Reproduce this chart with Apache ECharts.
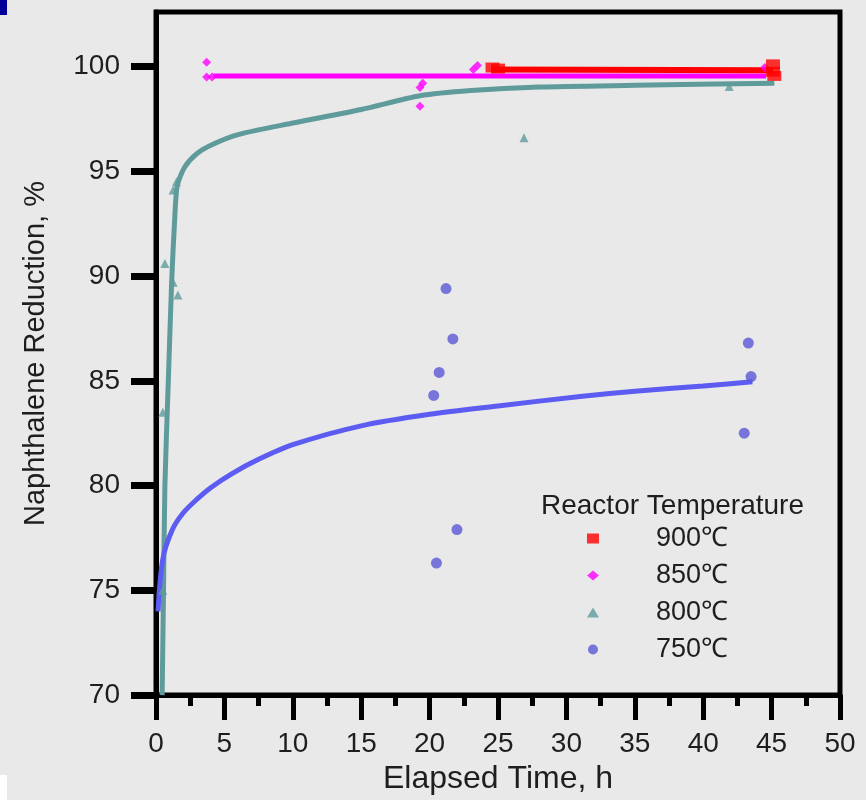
<!DOCTYPE html>
<html>
<head>
<meta charset="utf-8">
<script src="https://cdn.jsdelivr.net/npm/echarts@6/dist/echarts.min.js"></script>
<style>
html,body{margin:0;padding:0;background:#e9e9e9;}
#chart{width:866px;height:800px;}
</style>
</head>
<body>
<div id="chart"></div>
<script>
// ---- data ----
const xTicks = [0, 5, 10, 15, 20, 25, 30, 35, 40, 45, 50];
const yTicks = [70, 75, 80, 85, 90, 95, 100];
const legendNames = ['900℃', '850℃', '800℃', '750℃'];

// measured points
const pts900 = [[24.6, 99.95], [25.0, 99.9], [45.1, 100.1], [45.1, 99.75], [45.2, 99.55]];
const pts850 = [[3.7, 100.2], [3.7, 99.5], [4.1, 99.5], [19.5, 99.2], [19.3, 99.0], [19.3, 98.1], [23.2, 99.85], [23.5, 100.05], [44.5, 99.95]];
const pts800 = [[0.5, 75.0], [0.5, 83.5], [0.65, 90.6], [1.25, 89.7], [1.6, 89.1], [1.25, 94.1], [1.5, 94.5], [26.9, 96.6], [41.9, 99.05]];
const pts750 = [[21.2, 89.4], [21.7, 87.0], [20.7, 85.4], [20.3, 84.3], [22.0, 77.9], [20.5, 76.3], [43.3, 86.8], [43.5, 85.2], [43.0, 82.5]];

// fitted curves
const fit900 = [[24.5, 99.85], [45.1, 99.82]];
const fit850 = [[4.2, 99.55], [44.6, 99.55]];
const fit800 = [[0.45, 70], [0.55, 75], [0.65, 80], [0.9, 85], [1.15, 89.8], [1.35, 92.5], [1.55, 94.3], [2.1, 95.2], [3.0, 95.85], [4.2, 96.3], [6, 96.75], [10, 97.3], [15, 97.95], [19.3, 98.6], [23, 98.85], [28, 99.02], [35, 99.1], [45.2, 99.2]];
const fit750 = [[0.15, 74.0], [0.5, 76.5], [1.2, 77.9], [2, 78.7], [3, 79.35], [4, 79.9], [5.5, 80.55], [7.5, 81.25], [10, 81.95], [15, 82.85], [20, 83.4], [25, 83.8], [31, 84.25], [35, 84.5], [40, 84.75], [43.6, 84.95]];

const cRed = '#ff0000', cMag = '#ff00ff', cTeal = '#5f9b9b', cBlue = '#5c5cf2', cBlueDot = '#5a58d6';

const chart = echarts.init(document.getElementById('chart'));
const font = 'Liberation Sans, Arial, sans-serif';
const txt = '#1e1e1e';

chart.setOption({
  backgroundColor: '#e9e9e9',
  animation: false,
  grid: { left: 156, right: 26, top: 12, bottom: 104, show: true, backgroundColor: '#e9e9e9', borderColor: '#000', borderWidth: 5 },
  title: {
    text: 'Reactor Temperature', left: 536, top: 487,
    textStyle: { fontFamily: font, fontSize: 28, fontWeight: 'normal', color: txt }
  },
  legend: {
    orient: 'vertical', left: 582, top: 520, itemGap: 10, itemWidth: 12, itemHeight: 10,
    data: [
      { name: legendNames[0], icon: 'rect' },
      { name: legendNames[1], icon: 'diamond' },
      { name: legendNames[2], icon: 'triangle' },
      { name: legendNames[3], icon: 'circle' }
    ],
    formatter: n => '{a|' + n + '}',
    textStyle: { fontFamily: font, fontSize: 27, color: txt, rich: { a: { fontFamily: font, fontSize: 27, lineHeight: 27, color: txt, padding: [0, 0, 0, 52] } } },
    selectedMode: false
  },
  xAxis: {
    type: 'value', min: 0, max: 50, interval: 5,
    name: 'Elapsed Time, h', nameLocation: 'middle', nameGap: 66,
    nameTextStyle: { fontFamily: font, fontSize: 32, color: txt },
    axisLine: { show: true, onZero: false, lineStyle: { color: '#000', width: 5 } },
    axisTick: { show: true, length: 25, lineStyle: { color: '#000', width: 5 } },
    minorTick: { show: true, splitNumber: 2, length: 11, lineStyle: { color: '#000', width: 5 } },
    axisLabel: { margin: 35, fontFamily: font, fontSize: 28, color: txt, formatter: v => xTicks.includes(v) ? String(v) : '' },
    splitLine: { show: false }
  },
  yAxis: {
    type: 'value', min: 70, max: 102.6, interval: 5,
    name: 'Naphthalene Reduction, %', nameLocation: 'middle', nameGap: 106,
    nameTextStyle: { fontFamily: font, fontSize: 29, color: txt },
    axisLine: { show: true, onZero: false, lineStyle: { color: '#000', width: 5 } },
    axisTick: { show: true, length: 25, lineStyle: { color: '#000', width: 7 } },
    axisLabel: { margin: 36, fontFamily: font, fontSize: 28, color: txt, showMaxLabel: false, formatter: v => yTicks.includes(v) ? String(v) : '' },
    splitLine: { show: false }
  },
  graphic: [
    { type: 'rect', left: 0, top: 0, shape: { width: 7, height: 15 }, style: { fill: '#000099' } },
    { type: 'rect', left: 0, top: 775, shape: { width: 7, height: 25 }, style: { fill: '#ffffff' } }
  ],
  series: [
    { name: 'fit800', type: 'line', data: fit800, smooth: 0.25, showSymbol: false, lineStyle: { color: cTeal, width: 5 }, z: 2 },
    { name: 'fit750', type: 'line', data: fit750, smooth: 0.3, showSymbol: false, lineStyle: { color: cBlue, width: 5 }, z: 2 },
    { name: 'fit850', type: 'line', data: fit850, showSymbol: false, lineStyle: { color: cMag, width: 5 }, z: 3 },
    { name: 'fit900', type: 'line', data: fit900, showSymbol: false, lineStyle: { color: cRed, width: 6 }, z: 4 },
    { name: legendNames[3], type: 'scatter', data: pts750, symbol: 'circle', symbolSize: 11, itemStyle: { color: cBlueDot }, z: 5 },
    { name: legendNames[2], type: 'scatter', data: pts800, symbol: 'triangle', symbolSize: 9, itemStyle: { color: cTeal }, z: 5 },
    { name: legendNames[1], type: 'scatter', data: pts850, symbol: 'diamond', symbolSize: 9, itemStyle: { color: cMag }, z: 5 },
    { name: legendNames[0], type: 'scatter', data: pts900, symbol: 'rect', symbolSize: [14, 10], itemStyle: { color: cRed }, z: 6 }
  ]
});
</script>
</body>
</html>
